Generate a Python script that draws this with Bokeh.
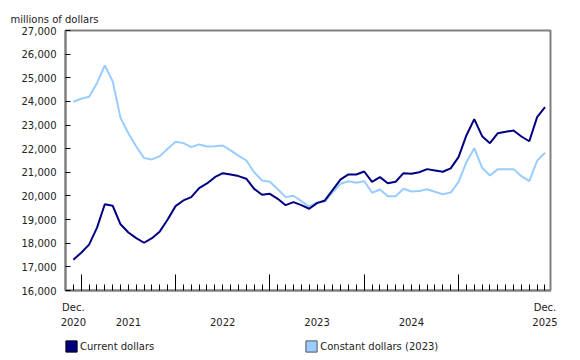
from bokeh.plotting import figure
from bokeh.layouts import column
from bokeh.models import (FixedTicker, LinearAxis, NumeralTickFormatter, Legend,
                          LegendItem, Range1d)
from bokeh.embed import file_html
from bokeh.resources import INLINE

# Monthly index: 0 = Dec. 2020 ... 60 = Dec. 2025
months = list(range(61))

current = [17300, 17600, 17940, 18650, 19650, 19585, 18800, 18455, 18215, 18020,
           18215, 18500, 19005, 19570, 19810, 19950, 20330, 20530, 20795, 20965,
           20910, 20840, 20730, 20300, 20050, 20090, 19880, 19610, 19740, 19610,
           19460, 19695, 19810, 20260, 20700, 20910, 20910, 21035, 20600, 20795,
           20540, 20600, 20965, 20940, 21005, 21135, 21080, 21025, 21165, 21640,
           22560, 23250, 22530, 22235, 22655, 22715, 22770, 22515, 22315, 23335,
           23755]

constant = [23985, 24110, 24195, 24770, 25520, 24855, 23305, 22655, 22095, 21600,
            21545, 21685, 21995, 22290, 22235, 22065, 22180, 22095, 22105, 22135,
            21925, 21710, 21500, 21005, 20655, 20600, 20285, 19950, 20010, 19780,
            19555, 19725, 19765, 20160, 20515, 20625, 20560, 20625, 20135, 20275,
            19990, 19990, 20305, 20190, 20205, 20285, 20175, 20075, 20145, 20585,
            21430, 22020, 21190, 20865, 21135, 21135, 21135, 20835, 20625, 21490,
            21825]

y_ticks = list(range(16000, 27001, 1000))
january_ticks = [1, 13, 25, 37, 49]
dec_labels = {0: "Dec.", 60: "Dec."}
year_labels = {0: "2020", 7: "2021", 19: "2022", 31: "2023", 43: "2024", 60: "2025"}

series_names = ["Current dollars", "Constant dollars (2023)"]
dark = "#000080"
light = "#99CCFF"
frame_grey = "#808080"
text_col = "#222222"
FONT = "DejaVu Sans"
FS = "10px"

p = figure(width=580, height=330, output_backend="svg", toolbar_location=None,
           x_range=Range1d(-1, 60.7), y_range=Range1d(16000, 27000),
           min_border_left=65, min_border_right=30, min_border_top=30,
           min_border_bottom=40)
p.xgrid.visible = False
p.ygrid.visible = False
p.outline_line_color = frame_grey
p.outline_line_width = 2

# title
p.title.text = "millions of dollars"
p.title.align = "left"
p.title.offset = -55
p.title.text_font = FONT
p.title.text_font_size = FS
p.title.text_font_style = "normal"
p.title.text_color = text_col
p.title.standoff = 12

# y axis
ya = p.yaxis[0]
ya.ticker = FixedTicker(ticks=y_ticks)
ya.formatter = NumeralTickFormatter(format="0,0")
ya.major_tick_in = 5
ya.major_tick_out = 0
ya.minor_tick_line_color = None
ya.axis_line_color = frame_grey
ya.axis_line_width = 2
ya.major_tick_line_color = "black"
ya.major_label_standoff = 9
ya.major_label_text_font = FONT
ya.major_label_text_font_size = FS
ya.major_label_text_color = text_col

# x axis (ticks only)
xa = p.xaxis[0]
xa.ticker = FixedTicker(ticks=january_ticks, minor_ticks=months)
xa.major_tick_in = 16
xa.major_tick_out = 0
xa.minor_tick_in = 6
xa.minor_tick_out = 0
xa.major_tick_line_color = "black"
xa.minor_tick_line_color = "black"
xa.axis_line_color = frame_grey
xa.axis_line_width = 2
xa.major_label_text_alpha = 0
xa.major_label_overrides = {t: " " for t in january_ticks}
xa.major_label_text_font_size = "2px"
xa.major_label_standoff = 0

# x axis labels: "Dec." row and year row
ax_dec = LinearAxis(ticker=FixedTicker(ticks=list(dec_labels.keys())),
                    major_label_overrides=dec_labels,
                    axis_line_color=None, major_tick_line_color=None,
                    minor_tick_line_color=None, major_tick_in=0, major_tick_out=0,
                    major_label_standoff=11, major_label_text_font=FONT,
                    major_label_text_font_size=FS, major_label_text_color=text_col)
ax_year = LinearAxis(ticker=FixedTicker(ticks=list(year_labels.keys())),
                     major_label_overrides=year_labels,
                     axis_line_color=None, major_tick_line_color=None,
                     minor_tick_line_color=None, major_tick_in=0, major_tick_out=0,
                     major_label_standoff=2, major_label_text_font=FONT,
                     major_label_text_font_size=FS, major_label_text_color=text_col)
p.add_layout(ax_dec, "below")
p.add_layout(ax_year, "below")

# lines
p.line(months, constant, line_color=light, line_width=2)
p.line(months, current, line_color=dark, line_width=2)

# legend strip (separate figure below the chart); swatch renderers hold no visible data
nan = float("nan")
lf = figure(width=580, height=30, output_backend="svg", toolbar_location=None,
            x_axis_location=None, y_axis_location=None,
            x_range=Range1d(0, 1), y_range=Range1d(0, 1),
            min_border_left=0, min_border_right=0, min_border_top=0,
            min_border_bottom=0)
lf.outline_line_color = None
lf.xgrid.visible = False
lf.ygrid.visible = False
sw1 = lf.quad(left=[nan], right=[nan], top=[nan], bottom=[nan],
              fill_color=dark, line_color="#000000")
sw2 = lf.quad(left=[nan], right=[nan], top=[nan], bottom=[nan],
              fill_color=light, line_color="#555555")

legend = Legend(items=[LegendItem(label=series_names[0], renderers=[sw1]),
                       LegendItem(label=series_names[1], renderers=[sw2])],
                orientation="horizontal", location=(-1, 7),
                glyph_width=14, glyph_height=14, label_standoff=2, spacing=150,
                padding=0, margin=0, border_line_color=None,
                background_fill_alpha=0, label_text_font=FONT,
                label_text_font_size=FS, label_text_color=text_col)
lf.add_layout(legend, "center")

layout = column(p, lf, spacing=0)
open("out.html", "w").write(file_html(layout, INLINE))
